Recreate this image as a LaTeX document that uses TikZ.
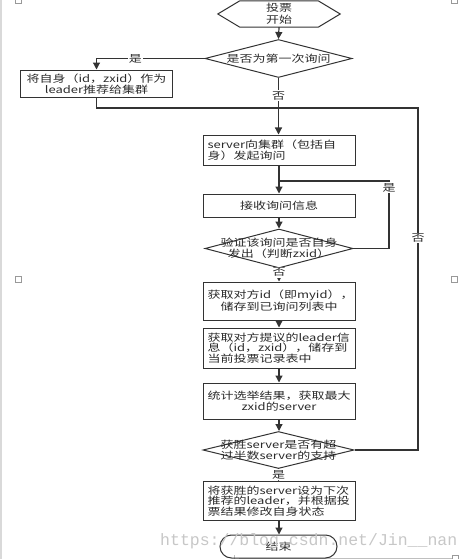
\documentclass[tikz,border=0pt]{standalone}
\usepackage{fontspec}
\newfontfamily\cjk[FakeStretch=1.3]{Noto Sans CJK SC}
\newfontfamily\wmfont{Liberation Mono}
\usetikzlibrary{shapes.geometric,shapes.misc,arrows.meta}
\definecolor{linec}{HTML}{333333}
\definecolor{txt}{HTML}{2A2A2A}
\definecolor{markc}{HTML}{999999}
\tikzset{
  boxbase/.style={draw=linec, line width=1pt, rectangle, minimum width=152pt, inner sep=4pt,
    font=\cjk\fontsize{10}{10.6}\selectfont, text=txt},
  boxc/.style={boxbase, text width=143pt, align=center},
  boxl/.style={boxbase, text width=143pt, align=left},
  dia/.style={draw=linec, line width=1pt, diamond, inner sep=0pt},
  diatext/.style={font=\cjk\fontsize{10}{10.6}\selectfont, text=txt, align=center, inner sep=0pt},
  lab/.style={fill=white, inner sep=1pt, font=\cjk\fontsize{10}{10}\selectfont, text=txt},
  arr/.style={draw=linec, line width=1.2pt, -{Triangle[length=7pt,width=7pt]}},
  conn/.style={draw=linec, line width=1.2pt},
  pagemark/.style={draw=markc, line width=0.8pt}
}
\begin{document}
\begin{tikzpicture}[x=1pt,y=-1pt]
\useasboundingbox (0,0) rectangle (471,559);
% page artefacts
\draw[draw=black!15, line width=1.2pt] (1,0) -- (1,559);
\draw[pagemark] (15.5,-3) rectangle (21.5,3);
\draw[pagemark] (451.5,-3) rectangle (457.5,3);
\draw[pagemark] (15.5,276.5) rectangle (21.5,282.5);
\draw[pagemark] (451.5,276.5) rectangle (457.5,282.5);
\draw[pagemark] (452,555) rectangle (458,561);
\draw[draw=black!25, line width=0.6pt] (239,558) -- (452,558);
\draw[draw=black!25, line width=0.6pt] (234.5,555) -- (234.5,559);

% start hexagon
\node[minimum width=122pt, minimum height=26pt, inner sep=0pt, align=center,
      font=\cjk\fontsize{10}{12}\selectfont, text=txt] (start) at (279,14) {投票\\开始};
\draw[draw=linec, line width=1pt] (start.west) -- ([xshift=22pt]start.north west)
  -- ([xshift=-22pt]start.north east) -- (start.east)
  -- ([xshift=-22pt]start.south east) -- ([xshift=22pt]start.south west) -- cycle;

% decision 1
\node[dia, minimum width=147pt, minimum height=38pt] (d1) at (278.5,58.5) {};
\node[diatext] (d1t) at (d1.center) {是否为第一次询问};

% box 1
\node[boxc, minimum height=23pt] (b1) at (96.5,84) {将自身（id，zxid）作为\\leader推荐给集群};

% box 2
\node[boxl, minimum height=30pt] (b2) at (279,150) {server向集群（包括自\\身）发起询问};
% box 3
\node[boxc, minimum height=23pt] (b3) at (279,205.5) {接收询问信息};
% decision 2
\node[dia, minimum width=148pt, minimum height=39pt] (d2) at (279,248.5) {};
\node[diatext] (d2t) at (d2.center) {验证该询问是否自身\\发出（判断zxid）};
% box 4
\node[boxc, minimum height=38pt] (b4) at (279,301) {获取对方id（即myid），\\储存到已询问列表中};
% box 5
\node[boxl, minimum height=40pt] (b5) at (279,348) {获取对方提议的leader信\\息（id，zxid），储存到\\当前投票记录表中};
% box 6
\node[boxc, minimum height=36pt] (b6) at (279,401) {统计选举结果，获取最大\\zxid的server};
% decision 3
\node[dia, minimum width=151pt, minimum height=37pt] (d3) at (278.5,450) {};
\node[diatext] (d3t) at (d3.center) {获胜server是否有超\\过半数server的支持};
% box 7
\node[boxl, minimum height=38pt] (b7) at (279,501) {将获胜的server设为下次\\推荐的leader，并根据投\\票结果修改自身状态};
% end
\node[draw=linec, line width=1pt, rounded rectangle, minimum width=117pt, minimum height=23pt,
      inner sep=0pt, font=\cjk\fontsize{10}{10}\selectfont, text=txt] (end) at (278.5,546.5) {结束};

% junction coordinates
\coordinate (j1) at (278.5,108);
\coordinate (r1) at (418,108);
\coordinate (l1) at (389,181);
\coordinate (l2) at (278.5,181);

% connectors
\draw[arr] (start.south) -- (d1.north);
\draw[arr] (d1.west) -| node[lab, pos=0.32] {是} (b1.north);
\draw[arr] (d1.south) -- node[lab, pos=0.31] {否} (b2.north -| d1.south);
\draw[conn] (b1.south) |- (j1);
\draw[conn] (d3.east) -| node[lab, pos=0.81] {否} (r1) -- (j1);
\draw[arr] (b2.south) -- (b3.north);
\draw[conn] (d2.east) -| node[lab, pos=0.95] {是} (l1) -- (l2);
\draw[arr] (b3.south) -- (d2.north);
\draw[arr] (d2.south) -- node[lab, pos=0.3] {否} (b4.north);
\draw[arr] (b4.south) -- (b5.north);
\draw[arr] (b5.south) -- (b6.north);
\draw[arr] (b6.south) -- (d3.north -| b6.south);
\draw[arr] (d3.south) -- node[lab, pos=0.48] {是} (b7.north -| d3.south);
\draw[arr] (b7.south) -- (end.north -| b7.south);

% watermark
\node[anchor=base west, inner sep=0pt, font=\wmfont\fontsize{16.5}{16.5}\selectfont, text=black!22] (wm) at (160,545) {https://blog.csdn.net/Jin\_\_nan};
\end{tikzpicture}
\end{document}
